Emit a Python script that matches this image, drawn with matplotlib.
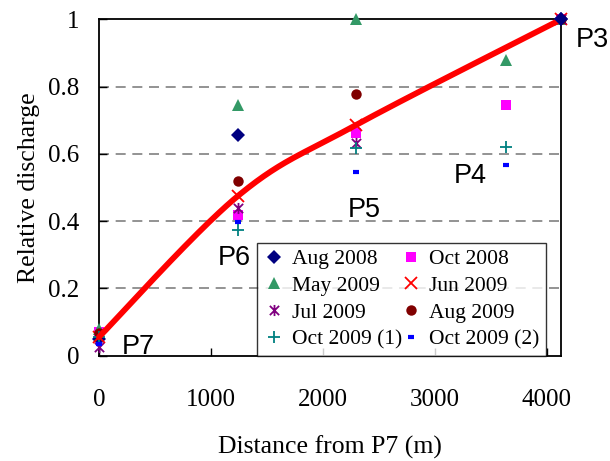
import numpy as np
import matplotlib
matplotlib.use("Agg")
import matplotlib.pyplot as plt
from matplotlib.path import Path

# ---- data ----
sites = ["P7", "P6", "P5", "P4", "P3"]
distance = [0, 1241, 2295, 3631, 4125]

aug2008 = [0.05, 0.656, None, None, 1.0]
oct2008 = [0.07, 0.418, 0.662, 0.746, 1.0]
may2009 = [0.08, 0.746, 1.0, 0.879, 1.0]
jun2009 = [0.055, 0.475, 0.686, None, 1.0]
jul2009 = [0.025, 0.439, 0.632, None, 1.0]
aug2009 = [0.068, 0.519, 0.778, None, 1.0]
oct2009_1 = [0.055, 0.373, 0.618, 0.62, 1.0]
oct2009_2 = [0.035, 0.397, 0.546, 0.567, 1.0]

series_names = ["Aug 2008", "Oct 2008", "May 2009", "Jun 2009",
                "Jul 2009", "Aug 2009", "Oct 2009 (1)", "Oct 2009 (2)"]
series_vals = [aug2008, oct2008, may2009, jun2009, jul2009, aug2009, oct2009_1, oct2009_2]

label_x = [205, 1063, 2223, 3170, 4258]
label_y = [0.024, 0.29, 0.432, 0.533, 0.938]

# asterisk marker: X with a vertical bar
star_path = Path([(-1, -1), (1, 1), (-1, 1), (1, -1), (0, -1.2), (0, 1.2)],
                 [Path.MOVETO, Path.LINETO, Path.MOVETO, Path.LINETO, Path.MOVETO, Path.LINETO])

# ---- styles ----
styles = [
    dict(marker="D", color="#000080", ms=7, mew=0),
    dict(marker="s", color="#FF00FF", ms=7, mew=0),
    dict(marker="^", color="#339966", ms=8, mew=0),
    dict(marker="x", color="#FF0000", ms=8, mew=1.3),
    dict(marker=star_path, color="#800080", ms=8, mew=1.3),
    dict(marker="o", color="#800000", ms=7.5, mew=0),
    dict(marker="+", color="#008080", ms=9, mew=1.3),
    dict(marker="_", color="#0000FF", ms=5, mew=3),
]

plt.rcParams["font.family"] = ["Liberation Serif", "DejaVu Serif"]

fig = plt.figure(figsize=(6.10, 4.61), dpi=100)
ax = fig.add_axes([99/610, 1-355.5/461, (561-99)/610, (355.5-19.5)/461])


def catmull_rom(xs, ys, n=60):
    px = np.array(xs, float)
    py = np.array(ys, float)
    px = np.concatenate([[px[0]], px, [px[-1]]])
    py = np.concatenate([[py[0]], py, [py[-1]]])
    outx, outy = [], []
    t = np.linspace(0, 1, n)
    for i in range(1, len(px) - 2):
        p0 = np.array([px[i-1], py[i-1]])
        p1 = np.array([px[i], py[i]])
        p2 = np.array([px[i+1], py[i+1]])
        p3 = np.array([px[i+2], py[i+2]])
        c1 = p1 + (p2 - p0) / 6
        c2 = p2 - (p3 - p1) / 6
        b = ((1-t)**3)[:, None]*p1 + (3*(1-t)**2*t)[:, None]*c1 + (3*(1-t)*t**2)[:, None]*c2 + (t**3)[:, None]*p2
        outx.extend(b[:, 0]); outy.extend(b[:, 1])
    return np.array(outx), np.array(outy)


# grid lines
for g in [0.2, 0.4, 0.6, 0.8]:
    ax.axhline(g, color="#808080", lw=1.2, ls=(0, (6, 4)), zorder=1)

handles = []
for name, vals, st in zip(series_names, series_vals, styles):
    xs = [d for d, v in zip(distance, vals) if v is not None]
    ys = [v for v in vals if v is not None]
    h, = ax.plot(xs, ys, linestyle="none", marker=st["marker"], color=st["color"],
                 markersize=st["ms"], markeredgewidth=st["mew"], label=name,
                 zorder=3, clip_on=False)
    handles.append(h)

jx = [d for d, v in zip(distance, jun2009) if v is not None]
jy = [v for v in jun2009 if v is not None]
cx, cy = catmull_rom(jx, jy)
ax.plot(cx, cy, color="#FF0000", lw=4.2, zorder=4, solid_capstyle="round", clip_on=False)
# diamond at P3 drawn above the line
ax.plot([distance[-1]], [aug2008[-1]], linestyle="none", marker="D", color="#000080",
        markersize=7, markeredgewidth=0, zorder=4.5, clip_on=False)

for s, lx, ly in zip(sites, label_x, label_y):
    ax.text(lx, ly, s, fontsize=19.5, family=["Liberation Sans", "DejaVu Sans"],
            ha="left", va="center", zorder=5, clip_on=False)

ax.set_xlim(0, 4125)
ax.set_ylim(0, 1)
ax.set_xticks([0, 1000, 2000, 3000, 4000])
ax.set_xticklabels(["0", "1000", "2000", "3000", "4000"])
ax.set_yticks([0, 0.2, 0.4, 0.6, 0.8, 1])
ax.set_yticklabels(["0", "0.2", "0.4", "0.6", "0.8", "1"])
ax.tick_params(axis="x", direction="in", length=6, width=1, pad=24, labelsize=18)
ax.tick_params(axis="y", direction="in", length=6, width=1, pad=14, labelsize=18)
for sp in ax.spines.values():
    sp.set_color("black")
    sp.set_linewidth(1.3)

ax.set_xlabel("Distance from P7 (m)", fontsize=18.5, labelpad=18)
ax.set_ylabel("Relative discharge", fontsize=18.5, labelpad=6)

# row-major legend order (two columns)
order = [0, 2, 4, 6, 1, 3, 5, 7]
leg = ax.legend(handles=[handles[i] for i in order], ncol=2, loc="lower left",
                bbox_to_anchor=(0.343, 0.0, 0.625, 0.336), mode="expand",
                borderaxespad=0, fontsize=15.5, frameon=True, fancybox=False,
                handlelength=0.9, handletextpad=0.4, columnspacing=0.8,
                labelspacing=0.3, borderpad=0.3)
leg.get_frame().set_edgecolor("black")
leg.get_frame().set_linewidth(1.0)
leg.set_zorder(6)

fig.savefig("out.png", dpi=100)
